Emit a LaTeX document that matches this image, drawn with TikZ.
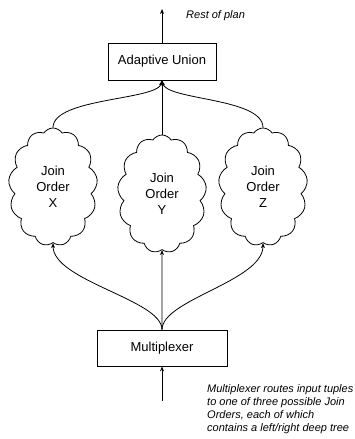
\documentclass[tikz,border=0pt]{standalone}
\usepackage{fontspec}
\setmainfont{Liberation Sans}
\usetikzlibrary{shapes.symbols,arrows.meta}
\begin{document}
\begin{tikzpicture}[x=1pt,y=-1pt,
 box/.style={draw,line width=0.8pt,inner sep=0,font=\fontsize{13}{16}\selectfont},
 jcloud/.style={cloud,draw,line width=0.8pt,cloud puffs=13,cloud puff arc=115,cloud ignores aspect,minimum width=89pt,minimum height=118pt,align=center,inner sep=0,font=\fontsize{13}{16}\selectfont},
 note/.style={inner sep=0,align=left,font=\fontsize{11}{13}\selectfont\itshape},
 conn/.style={line width=0.8pt,-{Stealth[length=5pt,width=4pt]}}]
\useasboundingbox (0,0) rectangle (354,439);
\node[box,minimum width=108pt,minimum height=37pt] (au) at (162,61.5) {Adaptive Union};
\node[box,minimum width=130pt,minimum height=36pt] (mx) at (162,348) {Multiplexer};
\node[jcloud] (cx) at (53,187) {Join\\Order\\X};
\node[jcloud] (cy) at (162,194) {Join\\Order\\Y};
\node[jcloud] (cz) at (263,187) {Join\\Order\\Z};
\node[note,anchor=west] (rp) at (186,16) {Rest of plan};
\node[note,anchor=north west] (cap) at (207,384) {Multiplexer routes input tuples\\to one of three possible Join\\Orders, each of which\\contains a left/right deep tree};
\coordinate (top) at (162,9);
\coordinate (bot) at (162,401);
\draw[conn] (au.north) -- (top);
\draw[conn] (bot) -- (mx.south);
\draw[conn] (cx.north) .. controls +(0,-30) and +(-4,20) .. (au.south);
\draw[conn] (cz.north) .. controls +(0,-30) and +(4,20) .. (au.south);
\draw[conn] (cy.north) -- (au.south);
\draw[conn] (mx.north) .. controls +(0,-30) and +(0,38) .. (cx.south);
\draw[conn] (mx.north) .. controls +(0,-30) and +(0,38) .. (cz.south);
\draw[conn] (mx.north) -- (cy.south);
\end{tikzpicture}
\end{document}
